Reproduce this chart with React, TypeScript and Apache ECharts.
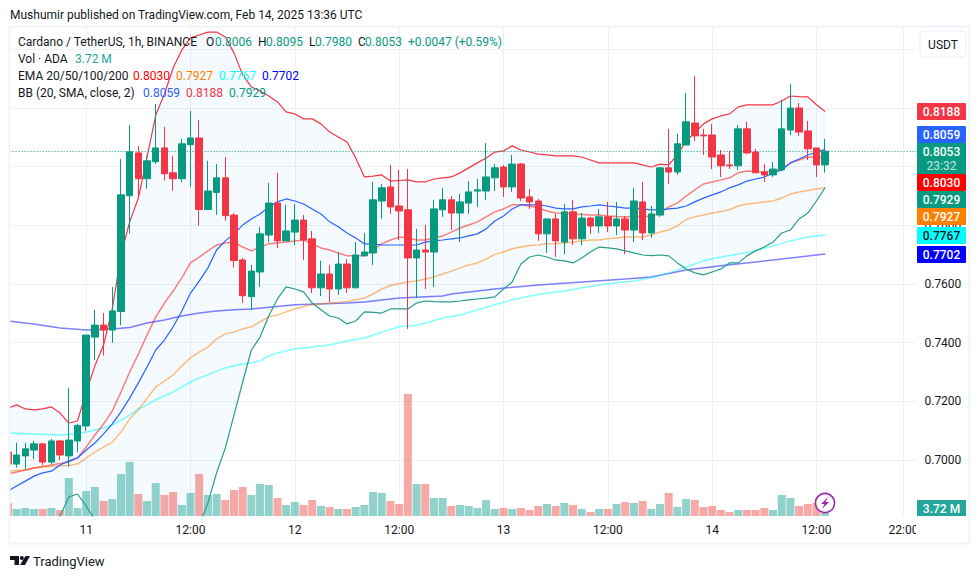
import React, { useEffect, useRef } from "react";
import * as echarts from "echarts";

const FONT = 'Roboto, "Noto Sans", sans-serif';
const UP = "#089981";
const DOWN = "#f23645";

// One entry per hour, starting 15:00 on Feb 10 (slot 0) and ending 13:00 on Feb 14
const opens = [
  .7027,.6986,.7014,.7034,.7055,.6993,.7065,.7014,.7065,
  .7116,.7419,.7460,.7443,.7506,.7901,.8047,.7959,.8017,.8064,
  .7979,.7959,.8075,.8098,.7854,.7912,.7962,.7835,.7682,.7557,
  .7641,.7767,.7876,.7747,.7777,.7818,.7754,.7587,.7634,.7583,
  .7668,.7587,.7696,.7706,.7883,.7931,.7866,.7853,.7689,.7716,
  .7709,.7853,.7887,.7842,.7876,.7917,.7917,.7962,.7999,.7931,
  .8009,.7897,.7883,.7771,.7822,.7743,.7846,.7754,.7825,.7798,
  .7829,.7798,.7822,.7784,.7880,.7774,.7835,.7996,.7982,.8074,
  .8149,.8108,.8108,.8040,.8006,.8003,.8129,.8050,.7982,.7972,
  .7989,.8125,.8200,.8122,.8064,.8006,
];
const closes = [
  .6986,.7017,.7038,.7055,.6993,.7065,.7017,.7068,.7118,
  .7426,.7460,.7443,.7508,.7904,.8051,.7959,.8020,.8064,.7976,
  .7959,.8078,.8098,.7854,.7917,.7962,.7833,.7680,.7560,.7644,
  .7771,.7876,.7747,.7781,.7818,.7750,.7587,.7634,.7583,.7668,
  .7587,.7699,.7709,.7887,.7928,.7863,.7849,.7689,.7716,.7709,
  .7856,.7887,.7842,.7880,.7914,.7921,.7965,.7996,.7931,.8009,
  .7893,.7880,.7771,.7822,.7747,.7846,.7754,.7825,.7798,.7829,
  .7798,.7822,.7784,.7883,.7774,.7839,.7996,.7982,.8078,.8153,
  .8105,.8105,.8033,.8003,.8003,.8129,.8047,.7979,.7972,.7992,
  .8129,.8200,.8118,.8061,.8006,.8053,
];
const highs = [
  .7038,.7059,.7059,.7065,.7057,.7072,.7068,.7246,.7123,
  .7426,.7512,.7501,.7590,.8026,.8142,.8071,.8037,.8214,.8136,
  .8037,.8095,.8190,.8159,.8020,.8009,.8033,.7842,.7689,.7665,
  .7795,.7945,.7979,.7870,.7873,.7835,.7781,.7679,.7665,.7709,
  .7685,.7743,.7774,.7948,.7941,.8006,.7989,.7992,.7788,.7801,
  .7887,.7928,.7900,.7907,.7951,.7958,.8081,.8009,.8006,.8040,
  .8013,.7924,.7890,.7822,.7839,.7873,.7887,.7842,.7829,.7856,
  .7880,.7880,.7832,.7928,.7948,.7866,.7999,.8129,.8112,.8251,
  .8309,.8129,.8146,.8057,.8054,.8142,.8153,.8061,.8009,.8016,
  .8228,.8282,.8217,.8156,.8064,.8095,
];
const lows = [
  .6976,.6974,.6968,.7003,.6982,.6985,.7000,.6977,.7027,
  .7099,.7341,.7356,.7400,.7460,.7772,.7894,.7925,.8009,.7952,
  .7918,.7946,.7932,.7799,.7854,.7836,.7816,.7656,.7536,.7512,
  .7590,.7743,.7723,.7747,.7733,.7682,.7569,.7559,.7539,.7563,
  .7569,.7587,.7696,.7665,.7822,.7839,.7750,.7447,.7552,.7583,
  .7590,.7829,.7784,.7743,.7839,.7863,.7887,.7917,.7897,.7914,
  .7883,.7856,.7747,.7706,.7692,.7702,.7733,.7733,.7771,.7774,
  .7777,.7767,.7702,.7743,.7750,.7757,.7829,.7941,.7972,.8074,
  .8088,.8040,.7992,.7965,.7992,.7989,.8043,.7979,.7948,.7965,
  .7985,.8108,.8105,.8023,.7965,.7980,
];
// Volume in millions
const volumes = [
  15.2,8.4,9.6,8.4,8.4,9.6,7.2,45.6,9.6,
  30,34.8,18,20.4,50.4,64.8,26.4,18,39.6,25.2,
  28.8,13.2,27.6,50.4,25.2,26.4,19.2,31.2,34.8,25.2,
  38.4,37.2,21.6,13.2,16.8,13.2,19.2,12,10.8,8.4,
  8.4,10.8,13.2,28.8,27.6,18,14.4,146.4,38.4,38.4,
  21.6,21.6,12,13.2,12,9.6,19.2,8.4,9.6,8.4,
  9.6,7.2,12,14.4,12,15.6,13.2,8.4,4.8,8.4,
  8.4,14.4,16.8,15.6,18,8.4,14.4,27.6,10.8,20.4,
  19.2,10.8,12,7.2,4.8,7.2,7.2,7.2,9.6,7.2,
  25.2,21.6,12,14.4,15.6,3.72,
];
const bbUpper = [
  .7177,.7188,.7174,.7171,.7174,.7181,.7160,.7126,.7133,
  .7232,.7321,.7392,.7515,.7699,.7812,.7893,.8033,.8176,.8248,
  .8337,.8398,.8439,.8449,.8459,.8459,.8442,.8388,.8313,.8272,
  .8258,.8241,.8221,.8187,.8180,.8163,.8163,.8146,.8118,.8101,
  .8084,.8030,.7965,.7968,.7972,.7951,.7953,.7955,.7948,.7948,
  .7958,.7962,.7965,.7979,.7996,.8013,.8030,.8050,.8054,.8071,
  .8057,.8050,.8043,.8040,.8037,.8037,.8037,.8033,.8023,.8013,
  .8013,.8013,.8013,.8013,.8006,.7999,.8009,.8006,.8040,.8088,
  .8115,.8146,.8163,.8173,.8180,.8204,.8211,.8211,.8211,.8211,
  .8224,.8241,.8239,.8238,.8211,.8188,
];
const bbBasis = [
  .6894,.6911,.6928,.6945,.6956,.6962,.6983,.6997,.7007,
  .7034,.7058,.7089,.7123,.7164,.7211,.7263,.7317,.7375,.7409,
  .7454,.7508,.7569,.7610,.7655,.7716,.7747,.7771,.7801,.7822,
  .7839,.7863,.7880,.7890,.7883,.7873,.7856,.7839,.7812,.7795,
  .7774,.7757,.7737,.7737,.7733,.7733,.7733,.7733,.7733,.7743,
  .7747,.7750,.7754,.7757,.7764,.7771,.7788,.7815,.7832,.7856,
  .7870,.7870,.7870,.7866,.7859,.7856,.7856,.7863,.7866,.7870,
  .7866,.7863,.7859,.7859,.7856,.7853,.7853,.7856,.7859,.7866,
  .7880,.7893,.7904,.7914,.7928,.7938,.7951,.7958,.7965,.7979,
  .7989,.8013,.8026,.8040,.8050,.8059,
];
const bbLower = [
  .6618,.6642,.6666,.6700,.6727,.6754,.6809,.6874,.6884,
  .6843,.6795,.6768,.6727,.6625,.6611,.6618,.6601,.6574,.6570,
  .6570,.6618,.6700,.6778,.6853,.6956,.7041,.7153,.7266,.7375,
  .7419,.7491,.7549,.7590,.7583,.7573,.7535,.7512,.7491,.7484,
  .7464,.7474,.7505,.7503,.7501,.7515,.7515,.7515,.7535,.7542,
  .7540,.7539,.7539,.7542,.7546,.7549,.7552,.7556,.7583,.7607,
  .7668,.7692,.7699,.7692,.7682,.7679,.7672,.7689,.7709,.7726,
  .7723,.7720,.7713,.7706,.7699,.7697,.7699,.7696,.7672,.7651,
  .7638,.7631,.7641,.7651,.7672,.7672,.7696,.7713,.7726,.7743,
  .7774,.7784,.7822,.7842,.7883,.7929,
];
const ema20 = [
  .6952,.6959,.6966,.6973,.6978,.6983,.6988,.6993,.7007,
  .7044,.7085,.7123,.7167,.7232,.7300,.7361,.7426,.7488,.7535,
  .7576,.7621,.7672,.7692,.7713,.7733,.7740,.7743,.7726,.7713,
  .7726,.7737,.7740,.7743,.7747,.7750,.7737,.7723,.7716,.7706,
  .7696,.7696,.7696,.7716,.7737,.7750,.7760,.7757,.7750,.7750,
  .7757,.7764,.7777,.7791,.7801,.7812,.7829,.7846,.7856,.7870,
  .7870,.7866,.7859,.7849,.7842,.7841,.7839,.7837,.7835,.7835,
  .7832,.7830,.7829,.7829,.7829,.7832,.7842,.7863,.7876,.7900,
  .7921,.7941,.7948,.7955,.7962,.7979,.7985,.7984,.7982,.7985,
  .7992,.8013,.8023,.8033,.8033,.8030,
];
const ema50 = [
  .6962,.6964,.6966,.6973,.6976,.6978,.6980,.6981,.6986,
  .7007,.7027,.7044,.7061,.7095,.7140,.7171,.7211,.7249,.7269,
  .7290,.7321,.7348,.7368,.7385,.7413,.7430,.7436,.7447,.7454,
  .7471,.7488,.7494,.7505,.7515,.7523,.7529,.7532,.7535,.7537,
  .7540,.7546,.7552,.7566,.7583,.7595,.7602,.7607,.7610,.7617,
  .7624,.7634,.7644,.7655,.7665,.7672,.7685,.7701,.7709,.7720,
  .7726,.7731,.7733,.7737,.7738,.7740,.7743,.7747,.7750,.7750,
  .7754,.7757,.7760,.7760,.7760,.7767,.7777,.7784,.7798,.7820,
  .7829,.7835,.7842,.7847,.7853,.7866,.7873,.7876,.7880,.7883,
  .7893,.7907,.7914,.7919,.7924,.7927,
];
// Slower EMAs: slot of each reading and its value
const ema100Slots = [0,3,6,8,9,10,11,12,13,14,15,16,17,18,19,20,21,22,23,24,25,26,27,28,29,30,31,32,33,34,35,36,37,38,39,41,43,45,47,48,50,52,54,56,58,60,62,64,66,68,70,72,74,76,78,80,82,84,86,88,90,92,94];
const ema100Values = [.7092,.7089,.7085,.7090,.7095,.7102,.7109,.7119,.7136,.7153,.7174,.7188,.7205,.7218,.7232,.7249,.7266,.7280,.7290,.7303,.7314,.7321,.7327,.7331,.7338,.7355,.7365,.7372,.7379,.7382,.7385,.7389,.7392,.7399,.7406,.7416,.7436,.7454,.7460,.7467,.7484,.7494,.7512,.7529,.7546,.7559,.7569,.7576,.7587,.7597,.7604,.7610,.7621,.7638,.7658,.7679,.7692,.7702,.7713,.7730,.7747,.7760,.7767];
const ema200Slots = [0,3,6,9,12,14,16,18,20,22,24,26,28,33,39,41,45,50,51,56,61,66,71,74,78,82,86,90,94];
const ema200Values = [.7474,.7464,.7450,.7443,.7447,.7452,.7467,.7477,.7491,.7501,.7508,.7512,.7515,.7529,.7535,.7539,.7552,.7559,.7566,.7583,.7597,.7607,.7617,.7624,.7648,.7662,.7675,.7689,.7702];

const SLOT_COUNT = 105;
const tickSlots = [9, 21, 33, 45, 57, 69, 81, 93, 103];
const tickLabels = ["11", "12:00", "12", "12:00", "13", "12:00", "14", "12:00", "22:00"];
const slots = Array.from({ length: SLOT_COUNT }, (_, k) => `h${k}`);
const lastPrice = closes[closes.length - 1];
const GRID = "#eef0f3";

const priceTags = [
  { text: "0.8188", color: "#f23645", ink: "#ffffff", top: 103 },
  { text: "0.8059", color: "#2962ff", ink: "#ffffff", top: 126 },
  { text: "0.8030", color: "#ff0000", ink: "#ffffff", top: 174 },
  { text: "0.7929", color: "#089981", ink: "#ffffff", top: 191 },
  { text: "0.7927", color: "#ff7f00", ink: "#ffffff", top: 208 },
  { text: "0.7767", color: "#00ffff", ink: "#131722", top: 227 },
  { text: "0.7702", color: "#0000ff", ink: "#ffffff", top: 246 },
];

function pairs(xs: number[], ys: number[]) {
  return xs.map((x, i) => [x, ys[i]]);
}

function line(name: string, data: any, color: string, width: number, extra: any = {}) {
  return {
    name,
    type: "line",
    xAxisIndex: 0,
    yAxisIndex: 0,
    data,
    symbol: "none",
    z: 3,
    silent: true,
    clip: true,
    lineStyle: { color, width },
    ...extra,
  };
}

function label(x: number, y: number, text: string, fill = "#131722", extra: any = {}) {
  return {
    type: "text",
    x,
    y,
    z: 120,
    silent: true,
    style: { text, fill, font: `12px ${FONT}`, textVerticalAlign: "middle", verticalAlign: "middle", ...extra },
  };
}

function buildGraphic() {
  const els: any[] = [];
  const cover = (x: number, y: number, width: number, height: number) => ({
    type: "rect", z: 100, silent: true, shape: { x, y, width, height }, style: { fill: "#ffffff" },
  });
  els.push(cover(0, 0, 9, 579));
  els.push(cover(9, 516.5, 961, 2.4));
  els.push(cover(916, 517, 52, 26));
  els.push({
    type: "rect", z: 101, silent: true,
    shape: { x: 9.5, y: 26.5, width: 960, height: 517 },
    style: { fill: "none", stroke: "#f0f3fa", lineWidth: 2 },
  });

  els.push(label(10, 15, "Mushumir published on TradingView.com, Feb 14, 2025 13:36 UTC"));
  els.push(label(18, 42, "Cardano / TetherUS, 1h, BINANCE"));
  const ohlc: [string, number, string, number][] = [
    ["O", 206, "0.8006", 215], ["H", 258, "0.8095", 266], ["L", 309, "0.7980", 315], ["C", 358, "0.8053", 365],
  ];
  ohlc.forEach(([k, kx, v, vx]) => {
    els.push(label(kx, 42, k));
    els.push(label(vx, 42, v, UP));
  });
  els.push(label(408, 42, "+0.0047 (+0.59%)", UP));
  els.push(label(18, 59, "Vol · ADA"));
  els.push(label(75, 59, "3.72 M", "#26a69a"));
  els.push(label(18, 76, "EMA 20/50/100/200"));
  els.push(label(133, 76, "0.8030", "#ff0000"));
  els.push(label(176, 76, "0.7927", "#ff7f00"));
  els.push(label(219, 76, "0.7767", "#00ffff"));
  els.push(label(262, 76, "0.7702", "#0000ff"));
  els.push(label(18, 93, "BB (20, SMA, close, 2)"));
  els.push(label(143, 93, "0.8059", "#2962ff"));
  els.push(label(186, 93, "0.8188", "#f23645"));
  els.push(label(229, 93, "0.7929", "#089981"));

  // USDT button
  els.push({
    type: "rect", z: 110, silent: true,
    shape: { x: 920, y: 31, width: 46, height: 26, r: 4 },
    style: { fill: "#ffffff", stroke: "#f0f3fa", lineWidth: 1.5 },
  });
  els.push(label(943, 45, "USDT", "#131722", { align: "center", textAlign: "center" }));

  // Price tags
  priceTags.forEach((t) => {
    els.push({
      type: "rect", z: 110, silent: true,
      shape: { x: 917, y: t.top, width: 49, height: 17, r: 1 },
      style: { fill: t.color },
    });
    els.push(label(941.5, t.top + 8.8, t.text, t.ink, { align: "center", textAlign: "center", font: `500 12px ${FONT}` }));
  });
  els.push({
    type: "rect", z: 110, silent: true,
    shape: { x: 917, y: 143, width: 49, height: 31 },
    style: { fill: UP },
  });
  els.push(label(941.5, 151.5, "0.8053", "#ffffff", { align: "center", textAlign: "center", font: `500 12px ${FONT}` }));
  els.push(label(941.5, 165.5, "23:32", "#c4e6e0", { align: "center", textAlign: "center", font: `12px ${FONT}` }));
  els.push({
    type: "rect", z: 110, silent: true,
    shape: { x: 917, y: 500, width: 49, height: 16 },
    style: { fill: "#26a69a" },
  });
  els.push(label(941.5, 508.5, "3.72 M", "#ffffff", { align: "center", textAlign: "center", font: `500 12px ${FONT}` }));

  // Lightning badge
  els.push({
    type: "circle", z: 112, silent: true,
    shape: { cx: 825, cy: 503, r: 9.5 },
    style: { fill: "#ffffff", stroke: "#9c27b0", lineWidth: 1.6 },
  });
  els.push({
    type: "polygon", z: 113, silent: true,
    shape: { points: [[828, 497], [821, 504], [824.5, 504], [822, 509], [829, 502], [825.5, 502]] },
    style: { fill: "#9c27b0" },
  });

  // TradingView mark and name
  els.push({
    type: "polygon", z: 113, silent: true,
    shape: { points: [[10, 556], [19, 556], [19, 565], [14.5, 565], [14.5, 560], [10, 560]] },
    style: { fill: "#131722" },
  });
  els.push({ type: "circle", z: 113, silent: true, shape: { cx: 21.8, cy: 558, r: 2 }, style: { fill: "#131722" } });
  els.push({
    type: "polygon", z: 113, silent: true,
    shape: { points: [[25.5, 556], [30, 556], [25, 565], [20, 565]] },
    style: { fill: "#131722" },
  });
  els.push(label(33, 561, "TradingView", "#131722", { font: `13px ${FONT}` }));
  return els;
}

export default function App() {
  const ref = useRef<HTMLDivElement>(null);

  useEffect(() => {
    if (!ref.current) return;
    const chart = echarts.init(ref.current, undefined, { renderer: "svg" });
    const isTick = (index: number) => tickSlots.indexOf(index) >= 0;

    chart.setOption({
      animation: false,
      backgroundColor: "#ffffff",
      grid: [
        { left: 3.6, width: 912.87, top: 27, height: 491.65 },
        { left: 3.6, width: 912.87, top: 27, height: 489 },
      ],
      xAxis: [
        {
          type: "category", gridIndex: 0, data: slots, show: false,
          axisLabel: { show: false }, axisTick: { show: false }, axisLine: { show: false }, splitLine: { show: false },
        },
        {
          type: "category", gridIndex: 1, data: slots,
          axisLine: { show: false },
          axisTick: { show: false },
          axisLabel: {
            interval: (index: number) => isTick(index),
            formatter: (_: string, index: number) => tickLabels[tickSlots.indexOf(index)] ?? "",
            color: "#131722", fontSize: 12, fontFamily: FONT, margin: 8,
          },
          splitLine: {
            show: true, alignWithLabel: true,
            interval: (index: number) => isTick(index),
            lineStyle: { color: GRID, width: 1 },
          },
        },
      ],
      yAxis: [
        {
          type: "value", gridIndex: 0, position: "right",
          min: 0.68, max: 0.84763, interval: 0.02,
          axisLine: { show: false }, axisTick: { show: false },
          axisLabel: {
            color: "#131722", fontSize: 12, fontFamily: FONT, margin: 8,
            showMinLabel: false, showMaxLabel: false,
            // 0.80 and above sit behind the price tags and the USDT button
            formatter: (v: number) => (v < 0.79 ? v.toFixed(4) : ""),
          },
          splitLine: { show: true, showMinLine: false, showMaxLine: false, lineStyle: { color: GRID, width: 1 } },
        },
        { type: "value", gridIndex: 1, min: 0, max: 586.8, show: false },
      ],
      series: [
        {
          name: "BB fill",
          type: "custom",
          xAxisIndex: 0, yAxisIndex: 0,
          clip: true, silent: true, z: 1,
          data: [[40, 0.75]],
          renderItem: (_: any, api: any) => {
            const n = bbUpper.length;
            const pts: number[][] = [];
            for (let k = 0; k < n; k++) pts.push(api.coord([k, bbUpper[k]]));
            for (let k = n - 1; k >= 0; k--) pts.push(api.coord([k, bbLower[k]]));
            return { type: "polygon", shape: { points: pts }, style: { fill: "rgba(33,150,243,0.05)", stroke: "none" } };
          },
        },
        {
          name: "Vol",
          type: "bar",
          xAxisIndex: 1, yAxisIndex: 1,
          barWidth: 8, z: 2, silent: true,
          data: volumes.map((v, i) => ({
            value: v,
            itemStyle: { color: closes[i] >= opens[i] ? "rgba(38,166,154,0.5)" : "rgba(239,83,80,0.5)" },
          })),
        },
        line("EMA 200", pairs(ema200Slots, ema200Values), "rgba(0,0,255,0.5)", 1.5),
        line("EMA 100", pairs(ema100Slots, ema100Values), "rgba(0,255,255,0.5)", 1.5),
        line("EMA 50", ema50, "rgba(255,127,0,0.5)", 1.5),
        line("EMA 20", ema20, "rgba(255,0,0,0.5)", 1.5),
        line("BB lower", bbLower, "#2a9d8a", 1.2),
        line("BB basis", bbBasis, "#2962ff", 1.2),
        line("BB upper", bbUpper, "#f23645", 1.2, {
          markLine: {
            silent: true, symbol: "none", label: { show: false }, animation: false, precision: 4,
            lineStyle: { color: UP, type: [1, 2], width: 1 },
            data: [{ yAxis: lastPrice }],
          },
        }),
        {
          name: "ADAUSDT",
          type: "candlestick",
          xAxisIndex: 0, yAxisIndex: 0,
          barWidth: 7, z: 5, silent: true, clip: true,
          data: opens.map((o, i) => [o, closes[i], lows[i], highs[i]]),
          itemStyle: { color: UP, color0: DOWN, borderColor: UP, borderColor0: DOWN, borderWidth: 1 },
        },
      ],
      graphic: { elements: buildGraphic() },
    });

    return () => chart.dispose();
  }, []);

  return (
    <div
      ref={ref}
      style={{ position: "fixed", left: 0, top: 0, width: 980, height: 579, background: "#ffffff" }}
    />
  );
}
